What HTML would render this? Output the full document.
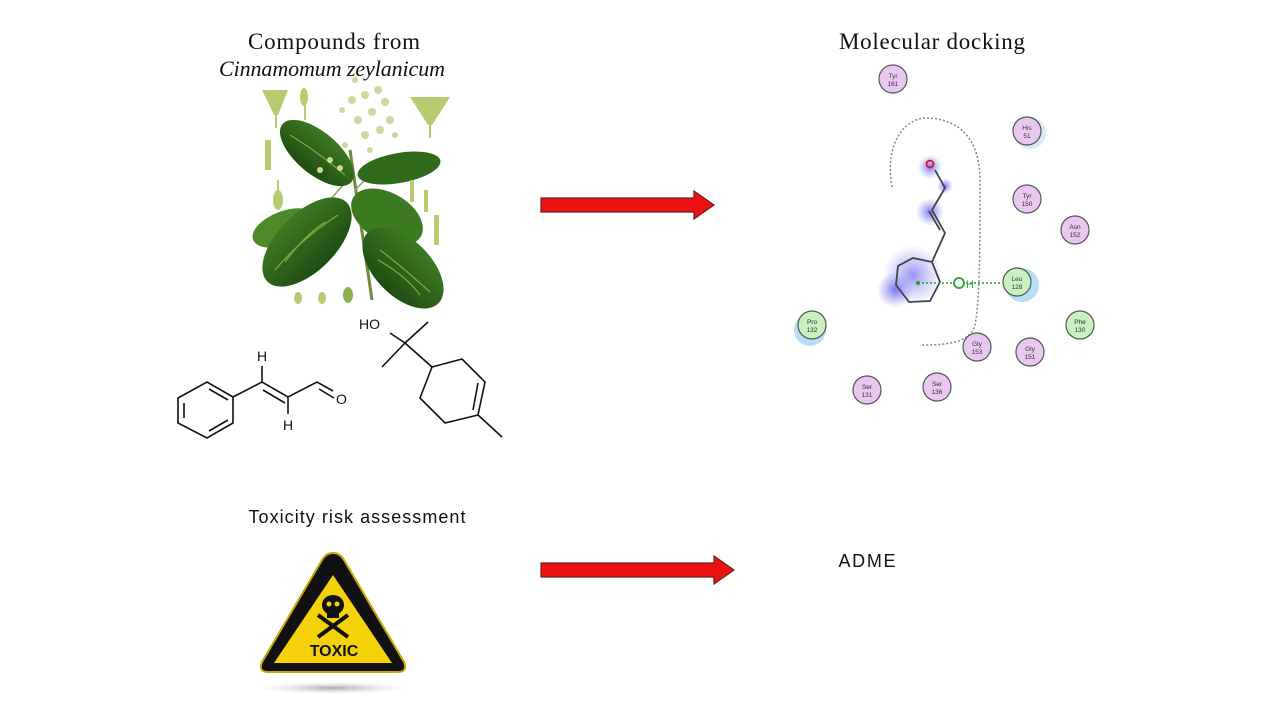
<!DOCTYPE html>
<html><head><meta charset="utf-8"><style>
html,body{margin:0;padding:0;background:#fff;}
body{width:1280px;height:720px;overflow:hidden;position:relative;}
</style></head><body>
<svg width="1280" height="720" viewBox="0 0 1280 720" xmlns="http://www.w3.org/2000/svg">
<defs>
<radialGradient id="blue"><stop offset="0" stop-color="#6f6cf0" stop-opacity="0.9"/><stop offset="1" stop-color="#8a88f5" stop-opacity="0"/></radialGradient>
<radialGradient id="shadow"><stop offset="0" stop-color="#888" stop-opacity="0.7"/><stop offset="1" stop-color="#ccc" stop-opacity="0"/></radialGradient>
<linearGradient id="leaf" x1="0" y1="0" x2="0" y2="1"><stop offset="0" stop-color="#3d7a22"/><stop offset="1" stop-color="#1f4d12"/></linearGradient>
</defs>

<!-- Titles -->
<text x="334" y="49" text-anchor="middle" font-family="Liberation Serif, serif" font-size="23" textLength="172" fill="#111">Compounds from</text>
<text x="332" y="76" text-anchor="middle" font-family="Liberation Serif, serif" font-size="22" font-style="italic" textLength="226" fill="#111">Cinnamomum zeylanicum</text>
<text x="932" y="49" text-anchor="middle" font-family="Liberation Serif, serif" font-size="23" textLength="186" fill="#111">Molecular docking</text>
<text x="357" y="523" text-anchor="middle" font-family="Liberation Sans, sans-serif" font-size="18" textLength="217" fill="#111">Toxicity risk assessment</text>
<text x="867" y="567" text-anchor="middle" font-family="Liberation Sans, sans-serif" font-size="18" textLength="57" fill="#111">ADME</text>

<!-- Plant -->
<g>
<line x1="350" y1="150" x2="372" y2="300" stroke="#6b8a3a" stroke-width="3"/>
<line x1="350" y1="177" x2="330" y2="200" stroke="#8aa060" stroke-width="1.5"/>
<line x1="355" y1="190" x2="385" y2="160" stroke="#8aa060" stroke-width="1.5"/>
<ellipse cx="285" cy="228" rx="34" ry="17" transform="rotate(-20 285 228)" fill="#4f8a2a"/>
<ellipse cx="317" cy="153" rx="45" ry="21" transform="rotate(40 317 153)" fill="url(#leaf)"/>
<ellipse cx="399" cy="168" rx="42" ry="15" transform="rotate(-10 399 168)" fill="#2f6a1a"/>
<ellipse cx="387" cy="217" rx="39" ry="24" transform="rotate(30 387 217)" fill="#3c7a22"/>
<ellipse cx="307" cy="242" rx="56" ry="29" transform="rotate(-45 307 242)" fill="url(#leaf)"/>
<ellipse cx="403" cy="268" rx="50" ry="28" transform="rotate(45 403 268)" fill="url(#leaf)"/>
<g stroke="#8fc050" stroke-width="1.2" fill="none" opacity="0.8">
<path d="M275 270 Q300 240 338 215"/><path d="M285 262 Q305 235 325 222"/>
<path d="M380 250 Q400 265 430 292"/><path d="M378 260 Q405 275 420 295"/>
<path d="M290 135 Q315 150 345 175"/>
</g>
<g fill="#c9d9a0">
<circle cx="352" cy="100" r="4"/><circle cx="365" cy="95" r="4"/><circle cx="378" cy="90" r="4"/><circle cx="385" cy="102" r="4"/>
<circle cx="372" cy="112" r="4"/><circle cx="358" cy="120" r="4"/><circle cx="390" cy="120" r="4"/><circle cx="380" cy="130" r="4"/>
<circle cx="395" cy="135" r="3"/><circle cx="365" cy="135" r="4"/><circle cx="345" cy="145" r="3"/><circle cx="330" cy="160" r="3"/>
<circle cx="320" cy="170" r="3"/><circle cx="340" cy="168" r="3"/><circle cx="370" cy="150" r="3"/><circle cx="355" cy="80" r="3"/><circle cx="342" cy="110" r="3"/>
</g>
<g fill="#b7cc70">
<path d="M262 90 L288 90 L278 115 L274 115Z"/><line x1="276" y1="112" x2="276" y2="128" stroke="#b7cc70" stroke-width="2"/>
<ellipse cx="304" cy="97" rx="4" ry="9"/><line x1="305" y1="100" x2="305" y2="120" stroke="#b7cc70" stroke-width="2"/>
<path d="M410 97 L450 97 L432 125 L428 125Z"/><line x1="430" y1="120" x2="430" y2="138" stroke="#b7cc70" stroke-width="2"/>
<rect x="265" y="140" width="6" height="30"/><ellipse cx="278" cy="200" rx="5" ry="10"/><line x1="278" y1="180" x2="278" y2="192" stroke="#b7cc70" stroke-width="2"/>
<rect x="410" y="180" width="4" height="22"/><rect x="424" y="190" width="4" height="22"/><rect x="434" y="215" width="5" height="30"/>
<ellipse cx="298" cy="298" rx="4" ry="6"/><ellipse cx="322" cy="298" rx="4" ry="6"/><ellipse cx="348" cy="295" rx="5" ry="8" fill="#8fb050"/>
</g>
</g>

<!-- Cinnamaldehyde -->
<g stroke="#111" stroke-width="1.6" fill="none">
<polygon points="178,398 207,382 233,397 233,423 207,438 178,423"/>
<line x1="184" y1="403" x2="184" y2="418"/><line x1="209" y1="389" x2="228" y2="400"/><line x1="209" y1="431" x2="228" y2="420"/>
<polyline points="233,397 262,382 288,397 317,382 333,391"/>
<line x1="263" y1="390" x2="285" y2="403"/>
<line x1="319" y1="389" x2="334" y2="398"/>
<line x1="262" y1="382" x2="262" y2="366"/><line x1="288" y1="397" x2="288" y2="414"/>
<polyline points="405,343 428,322"/><polyline points="405,343 382,367"/><polyline points="405,343 432,367"/><line x1="405" y1="343" x2="390" y2="333"/>
<polygon points="432,367 462,359 485,382 478,415 445,423 420,398"/>
<line x1="478" y1="383" x2="473" y2="410"/>
<line x1="478" y1="415" x2="502" y2="437"/>
</g>
<g font-family="Liberation Sans, sans-serif" font-size="14" fill="#111">
<text x="257" y="361">H</text><text x="283" y="430">H</text><text x="336" y="404">O</text><text x="359" y="329">HO</text>
</g>

<!-- Arrows -->
<g fill="#ee1111" stroke="#6a2020" stroke-width="1.2">
<polygon points="541,198 694,198 694,191 714,205 694,219 694,212 541,212"/>
<polygon points="541,563 714,563 714,556 734,570 714,584 714,577 541,577"/>
</g>

<!-- Docking -->
<path d="M892 187 C885 150 900 120 925 118 C960 118 980 140 980 180 C980 240 980 300 975 325 C970 345 940 345 920 345" fill="none" stroke="#888" stroke-width="1.5" stroke-dasharray="2,2"/>
<circle cx="913" cy="275" r="30" fill="url(#blue)" opacity="0.8"/>
<circle cx="895" cy="290" r="18" fill="url(#blue)"/>
<circle cx="930" cy="212" r="14" fill="url(#blue)"/>
<circle cx="930" cy="167" r="12" fill="url(#blue)"/>
<circle cx="945" cy="186" r="8" fill="url(#blue)"/>
<g stroke="#444" stroke-width="1.8" fill="none">
<polygon points="913,258 932,262 940,282 930,301 909,302 896,285 898,266"/>
<polyline points="932,262 945,233 932,210 945,188 935,170"/>
<line x1="940" y1="230" x2="929" y2="211"/>
</g>
<circle cx="930" cy="164" r="3.5" fill="none" stroke="#e0102a" stroke-width="1.8"/>
<line x1="918" y1="283" x2="1002" y2="283" stroke="#2a9a2a" stroke-width="1.5" stroke-dasharray="2,2"/>
<circle cx="918" cy="283" r="2" fill="#2a9a2a"/>
<circle cx="959" cy="283" r="5" fill="#fff" stroke="#3aaa3a" stroke-width="2"/>
<text x="966" y="288" font-family="Liberation Sans, sans-serif" font-size="11" fill="#3aaa3a">H</text>
<circle cx="1022" cy="285" r="17" fill="#a8d4f0" opacity="0.8"/>
<circle cx="810" cy="330" r="16" fill="#a8d4f0" opacity="0.8"/>
<circle cx="1030" cy="133" r="16" fill="#cfe6f6" opacity="0.8"/>
<g font-family="Liberation Sans, sans-serif" font-size="6.5" fill="#333" text-anchor="middle" stroke-width="1.2">
<g fill="#e8c8f0" stroke="#555">
<circle cx="893" cy="79" r="14"/><circle cx="1027" cy="131" r="14"/><circle cx="1027" cy="199" r="14"/><circle cx="1075" cy="230" r="14"/>
<circle cx="977" cy="347" r="14"/><circle cx="1030" cy="352" r="14"/><circle cx="867" cy="390" r="14"/><circle cx="937" cy="387" r="14"/>
</g>
<g fill="#c8f0c0" stroke="#555">
<circle cx="1017" cy="282" r="14"/><circle cx="1080" cy="325" r="14"/><circle cx="812" cy="325" r="14"/>
</g>
<text x="893" y="78">Tyr</text><text x="893" y="86">161</text>
<text x="1027" y="130">His</text><text x="1027" y="138">51</text>
<text x="1027" y="198">Tyr</text><text x="1027" y="206">150</text>
<text x="1075" y="229">Asn</text><text x="1075" y="237">152</text>
<text x="1017" y="281">Leu</text><text x="1017" y="289">128</text>
<text x="1080" y="324">Phe</text><text x="1080" y="332">130</text>
<text x="812" y="324">Pro</text><text x="812" y="332">132</text>
<text x="977" y="346">Gly</text><text x="977" y="354">153</text>
<text x="1030" y="351">Gly</text><text x="1030" y="359">151</text>
<text x="867" y="389">Ser</text><text x="867" y="397">131</text>
<text x="937" y="386">Ser</text><text x="937" y="394">136</text>
</g>

<!-- Toxic sign -->
<ellipse cx="333" cy="688" rx="75" ry="6" fill="url(#shadow)"/>
<path d="M333 553 Q340 553 344 560 L404 662 Q408 672 398 672 L268 672 Q258 672 262 662 L322 560 Q326 553 333 553Z" fill="#111" stroke="#c9a800" stroke-width="2"/>
<path d="M333 575 L392 663 L274 663Z" fill="#f5d10a"/>
<g fill="#111">
<ellipse cx="333" cy="605" rx="11" ry="10"/><rect x="327" y="610" width="12" height="8"/>
<line x1="318" y1="615" x2="348" y2="637" stroke="#111" stroke-width="4"/>
<line x1="348" y1="615" x2="318" y2="637" stroke="#111" stroke-width="4"/>
</g>
<circle cx="329" cy="604" r="2.5" fill="#f5d10a"/><circle cx="337" cy="604" r="2.5" fill="#f5d10a"/>
<text x="334" y="656" text-anchor="middle" font-family="Liberation Sans, sans-serif" font-weight="bold" font-size="16" fill="#111">TOXIC</text>
</svg>
</body></html>
